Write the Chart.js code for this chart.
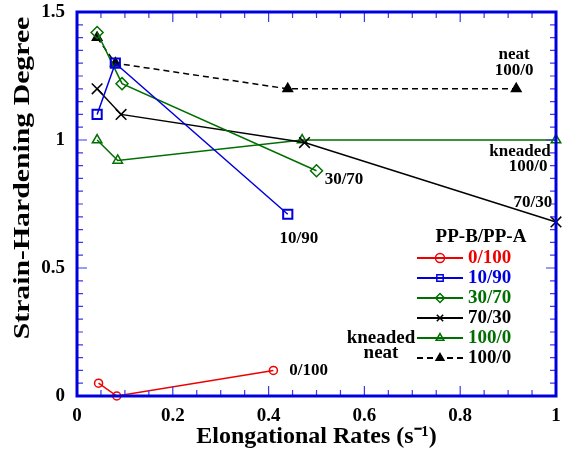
<!DOCTYPE html>
<html>
<head>
<meta charset="utf-8">
<script src="https://cdn.jsdelivr.net/npm/chart.js@4.4.1/dist/chart.umd.min.js"></script>
<style>
  html, body { margin: 0; padding: 0; background: #fff; }
  #wrap { width: 565px; height: 453px; position: relative; }
</style>
</head>
<body>
<div id="wrap"><canvas id="c"></canvas></div>
<script>
// ---- data ----
var rate0_100 = [0.045, 0.083, 0.41];
var sh0_100 = [0.05, 0.0, 0.10];
var rate10_90 = [0.042, 0.080, 0.44];
var sh10_90 = [1.10, 1.30, 0.71];
var rate30_70 = [0.042, 0.094, 0.50];
var sh30_70 = [1.42, 1.22, 0.88];
var rate70_30 = [0.042, 0.092, 0.475, 1.0];
var sh70_30 = [1.20, 1.10, 0.99, 0.68];
var rateKneaded = [0.042, 0.085, 0.47, 1.0];
var shKneaded = [1.0, 0.92, 1.0, 1.0];
var rateNeat = [0.042, 0.080, 0.44, 0.917];
var shNeat = [1.40, 1.30, 1.20, 1.20];

var seriesNames = ['0/100', '10/90', '30/70', '70/30', '100/0', '100/0'];
var xTicks = [0, 0.2, 0.4, 0.6, 0.8, 1];
var xTickLabels = ['0', '0.2', '0.4', '0.6', '0.8', '1'];
var yTicks = [0, 0.5, 1, 1.5];
var yTickLabels = ['0', '0.5', '1', '1.5'];

var FONT = "'Liberation Serif', 'Times New Roman', serif";
var RED = '#ee0000', BLUE = '#0000dd', GREEN = '#006e00', BLACK = '#000000';
var FRAME = '#0000dd';

function pts(xs, ys) {
  return xs.map(function (x, i) { return { x: x, y: ys[i] }; });
}

function ds(label, xs, ys, color, style, opts) {
  var d = {
    label: label, data: pts(xs, ys),
    borderColor: color, backgroundColor: 'rgba(0,0,0,0)',
    borderWidth: 1.5, pointStyle: style, pointRadius: 5,
    pointBorderColor: color, pointBackgroundColor: 'rgba(0,0,0,0)',
    pointBorderWidth: 1.5, tension: 0, clip: false, fill: false
  };
  for (var k in opts || {}) d[k] = opts[k];
  return d;
}

var datasets = [
  ds(seriesNames[0], rate0_100, sh0_100, RED, 'circle', { pointRadius: 4 }),
  ds(seriesNames[1], rate10_90, sh10_90, BLUE, 'rect', { pointRadius: 6.5, pointBorderWidth: 2 }),
  ds(seriesNames[2], rate30_70, sh30_70, GREEN, 'rectRot', { pointRadius: 6 }),
  ds(seriesNames[3], rate70_30, sh70_30, BLACK, 'crossRot', { pointRadius: 7.5 }),
  ds(seriesNames[4], rateKneaded, shKneaded, GREEN, 'triangle', { pointRadius: 5.5 }),
  ds(seriesNames[5], rateNeat, shNeat, BLACK, 'triangle',
     { pointRadius: 5.5, pointBackgroundColor: BLACK, borderDash: [6, 4] })
];

// text labels next to the curves (data units)
var notes = [
  { t: 'neat', x: 0.9125, y: 1.332, a: 'center' },
  { t: '100/0', x: 0.9125, y: 1.27, a: 'center' },
  { t: 'kneaded', x: 0.989, y: 0.953, a: 'right' },
  { t: '100/0', x: 0.982, y: 0.898, a: 'right' },
  { t: '30/70', x: 0.517, y: 0.844, a: 'left' },
  { t: '70/30', x: 0.992, y: 0.754, a: 'right' },
  { t: '10/90', x: 0.423, y: 0.613, a: 'left' },
  { t: '0/100', x: 0.443, y: 0.098, a: 'left' }
];

/* ---------- frame + inward ticks on all four sides ---------- */
var frameTicks = {
  id: 'frameTicks',
  afterDraw: function (chart) {
    var c = chart.ctx, a = chart.chartArea;
    var sx = chart.scales.x, sy = chart.scales.y;
    c.save();
    c.strokeStyle = '#3a3ae6'; c.lineWidth = 1.2;
    for (var i = 1; i < 20; i++) {
      var px = sx.getPixelForValue(i * 0.05);
      var L = (i % 4 === 0) ? 10 : 6;
      c.beginPath();
      c.moveTo(px, a.bottom); c.lineTo(px, a.bottom - L);
      c.moveTo(px, a.top); c.lineTo(px, a.top + L);
      c.stroke();
    }
    for (var j = 1; j < 30; j++) {
      var py = sy.getPixelForValue(j * 0.05);
      var M = (j % 10 === 0) ? 10 : 6;
      c.beginPath();
      c.moveTo(a.left, py); c.lineTo(a.left + M, py);
      c.moveTo(a.right, py); c.lineTo(a.right - M, py);
      c.stroke();
    }
    c.strokeStyle = FRAME; c.lineWidth = 3;
    c.strokeRect(a.left, a.top, a.right - a.left, a.bottom - a.top);
    c.restore();
  }
};

/* ---------- y-axis title (tall, narrow glyphs like the original) ---------- */
var yTitle = {
  id: 'yTitle',
  afterDraw: function (chart) {
    var c = chart.ctx;
    c.save();
    c.translate(23, 178);
    c.rotate(-Math.PI / 2);
    c.scale(1.24, 1);
    c.font = 'bold 24px ' + FONT;
    c.fillStyle = '#000';
    c.textAlign = 'center';
    c.textBaseline = 'middle';
    c.fillText('Strain-Hardening Degree', 0, 0);
    c.restore();
  }
};

/* ---------- curve labels ---------- */
var curveNotes = {
  id: 'curveNotes',
  afterDatasetsDraw: function (chart) {
    var c = chart.ctx, sx = chart.scales.x, sy = chart.scales.y;
    c.save();
    c.font = 'bold 17px ' + FONT;
    c.fillStyle = '#000';
    c.textBaseline = 'middle';
    notes.forEach(function (n) {
      c.textAlign = n.a;
      c.fillText(n.t, sx.getPixelForValue(n.x), sy.getPixelForValue(n.y));
    });
    c.restore();
  }
};

/* ---------- legend box (built from the datasets) ---------- */
var legendTextColors = [RED, BLUE, GREEN, BLACK, GREEN, BLACK];
var boxLegend = {
  id: 'boxLegend',
  afterDraw: function (chart) {
    var c = chart.ctx;
    var x0 = 417, x1 = 463, xm = 440, tx = 468, y0 = 258, dy = 20;
    c.save();
    c.font = 'bold 19px ' + FONT;
    c.textBaseline = 'middle';
    c.fillStyle = '#000';
    c.textAlign = 'center';
    c.fillText('PP-B/PP-A', 481, 237);
    chart.data.datasets.forEach(function (d, i) {
      var y = y0 + i * dy;
      c.strokeStyle = d.borderColor; c.lineWidth = 2;
      c.setLineDash(d.borderDash || []);
      c.beginPath(); c.moveTo(x0, y); c.lineTo(x1, y); c.stroke();
      c.setLineDash([]);
      c.fillStyle = d.pointBackgroundColor;
      c.strokeStyle = d.pointBorderColor;
      c.lineWidth = 1.5;
      Chart.helpers.drawPoint(c, { pointStyle: d.pointStyle, radius: 4.5, rotation: 0, borderWidth: 1.5 }, xm, y);
      c.fillStyle = legendTextColors[i];
      c.textAlign = 'left';
      c.fillText(d.label, tx, y);
    });
    c.fillStyle = '#000';
    c.textAlign = 'center';
    c.fillText('kneaded', 381, y0 + 4 * dy);
    c.fillText('neat', 381, y0 + 4 * dy + 15);
    c.restore();
  }
};

new Chart(document.getElementById('c'), {
  type: 'line',
  data: { datasets: datasets },
  options: {
    responsive: true, maintainAspectRatio: false, animation: false,
    layout: { padding: { top: 12, right: 8, left: 0, bottom: 0 } },
    plugins: { legend: { display: false }, tooltip: { enabled: false } },
    scales: {
      x: {
        type: 'linear', min: 0, max: 1,
        grid: { display: false, drawTicks: false, tickLength: 0 }, border: { display: false },
        afterBuildTicks: function (s) { s.ticks = xTicks.map(function (v) { return { value: v }; }); },
        afterFit: function (s) { s.height = 57; s.paddingLeft = 0; s.paddingRight = 0; },
        ticks: {
          color: '#000', padding: 9, font: { family: FONT, size: 19, weight: 'bold' },
          callback: function (v, i) { return xTickLabels[i]; }
        },
        title: {
          display: true, text: 'Elongational Rates (s\u207B\u00B9)', color: '#000',
          padding: { top: 0, bottom: 2 },
          font: { family: FONT, size: 24, weight: 'bold' }
        }
      },
      y: {
        type: 'linear', min: 0, max: 1.5,
        grid: { display: false, drawTicks: false, tickLength: 0 }, border: { display: false },
        afterBuildTicks: function (s) { s.ticks = yTicks.map(function (v) { return { value: v }; }); },
        afterFit: function (s) { s.width = 77; s.paddingTop = 0; s.paddingBottom = 0; },
        ticks: {
          color: '#000', padding: 12, font: { family: FONT, size: 19, weight: 'bold' },
          callback: function (v, i) { return yTickLabels[i]; }
        },
        title: { display: false }
      }
    }
  },
  plugins: [frameTicks, curveNotes, boxLegend, yTitle]
});
</script>
</body>
</html>
